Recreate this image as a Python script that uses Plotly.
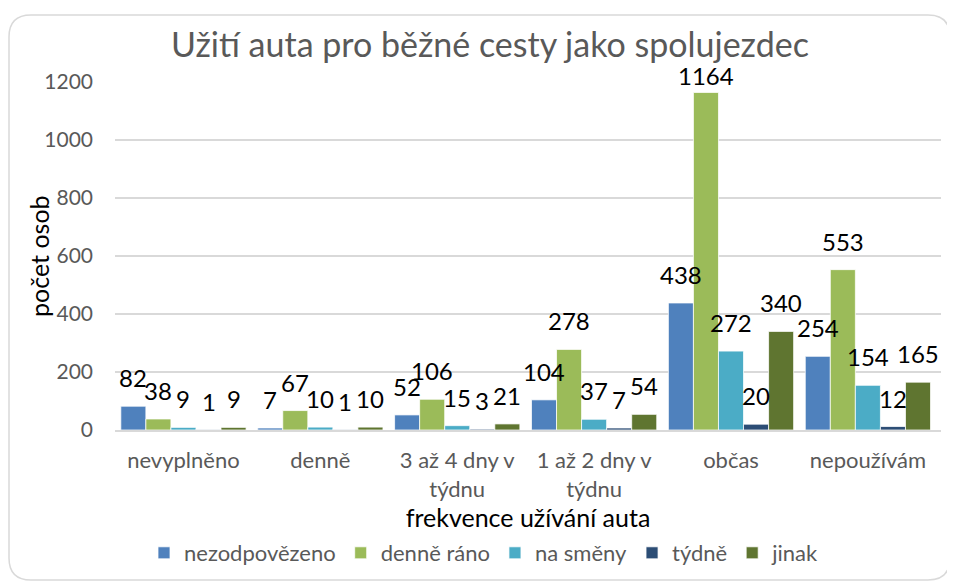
import plotly.graph_objects as go

categories = ["nevyplněno", "denně", "3 až 4 dny v<br>týdnu", "1 až 2 dny v<br>týdnu", "občas", "nepoužívám"]
series_names = ["nezodpovězeno", "denně ráno", "na směny", "týdně", "jinak"]
nezodpovezeno = [82, 7, 52, 104, 438, 254]
denne_rano = [38, 67, 106, 278, 1164, 553]
na_smeny = [9, 10, 15, 37, 272, 154]
tydne = [1, 1, 3, 7, 20, 12]
jinak = [9, 10, 21, 54, 340, 165]
y_ticks = [0, 200, 400, 600, 800, 1000, 1200]

values = [nezodpovezeno, denne_rano, na_smeny, tydne, jinak]
colors = ["#4F81BD", "#9BBB59", "#4BACC6", "#2C4D75", "#5F7530"]

FONT = "Lato"
YMAX = 1200
BARGAP = 0.085

# page has an 8px body margin; figure is sized so that screen coords match
OFF = 8
W, H = 955 - OFF, 585 - OFF
# plot area in screen pixels
SL, SR, ST, SB = 115, 941, 82, 430
L, T = SL - OFF, ST - OFF
R = 955 - SR
B = 585 - SB
pw, ph = SR - SL, SB - ST


def px(x):  # screen x -> paper
    return (x - SL) / pw


def py(y):  # screen y -> paper
    return (SB - y) / ph


fig = go.Figure()
n = len(values)
bw = (1 - BARGAP) / n
annotations = []
for j, (name, vals, col) in enumerate(zip(series_names, values, colors)):
    fig.add_trace(go.Bar(
        name=name, x=categories, y=vals,
        marker=dict(color=col, line=dict(color="white", width=0.75)),
        cliponaxis=False,
    ))
    for i, v in enumerate(vals):
        bar_top = SB - v / YMAX * ph
        shift = max(0, min(12, bar_top - 92))
        annotations.append(dict(
            x=i - (1 - BARGAP) / 2 + (j + 0.5) * bw, y=v, xref="x", yref="y",
            text=str(v), showarrow=False, yanchor="bottom", xanchor="center",
            yshift=shift, font=dict(family=FONT, size=24, color="black"),
        ))

# y-axis title
annotations.append(dict(
    text="počet osob", xref="paper", yref="paper", x=px(39), y=0.5,
    xanchor="center", yanchor="middle", textangle=-90, showarrow=False,
    font=dict(family=FONT, size=25, color="black"),
))

x0, x1, y0, y1, r = 9, 950, 15, 580, 22
path = (f"M {px(x0+r)},{py(y0)} L {px(x1-r)},{py(y0)} Q {px(x1)},{py(y0)} {px(x1)},{py(y0+r)} "
        f"L {px(x1)},{py(y1-r)} Q {px(x1)},{py(y1)} {px(x1-r)},{py(y1)} "
        f"L {px(x0+r)},{py(y1)} Q {px(x0)},{py(y1)} {px(x0)},{py(y1-r)} "
        f"L {px(x0)},{py(y0+r)} Q {px(x0)},{py(y0)} {px(x0+r)},{py(y0)} Z")

fig.update_layout(
    width=W, height=H,
    margin=dict(l=L, r=R, t=T, b=B, autoexpand=False),
    paper_bgcolor="white", plot_bgcolor="white",
    barmode="group", bargap=BARGAP, bargroupgap=0,
    font=dict(family=FONT, color="#595959"),
    title=dict(text="Užití auta pro běžné cesty jako spolujezdec", x=px(490), xanchor="center", xref="paper",
               y=1 - (45 - OFF) / H, yanchor="middle",
               font=dict(family=FONT, size=34, color="#595959")),
    xaxis=dict(title=dict(text="frekvence užívání auta", font=dict(family=FONT, size=25, color="black"), standoff=8),
               tickfont=dict(family=FONT, size=22, color="#595959"), ticklabelstandoff=10,
               showline=True, linecolor="#D9D9D9", linewidth=1.5, ticks="", automargin=False),
    yaxis=dict(range=[0, YMAX], tickvals=y_ticks, tickfont=dict(family=FONT, size=21, color="#595959"),
               ticklabelstandoff=21,
               showgrid=True, gridcolor="#D9D9D9", gridwidth=1.5, zeroline=False, ticks="", automargin=False),
    legend=dict(orientation="h", x=px(144), xanchor="left", y=py(553), yanchor="middle",
                font=dict(family=FONT, size=22, color="#595959"), itemwidth=30, traceorder="normal"),
    annotations=annotations,
    shapes=[dict(type="path", path=path, xref="paper", yref="paper",
                 line=dict(color="#D9D9D9", width=1.5), fillcolor="rgba(0,0,0,0)", layer="below")],
    showlegend=True,
)

fig.write_html("out.html")
